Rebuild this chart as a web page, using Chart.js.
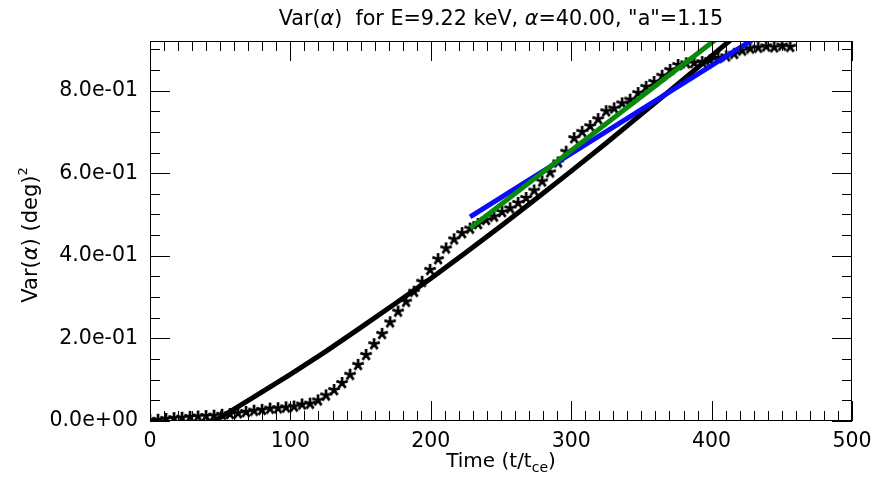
<!DOCTYPE html>
<html>
<head>
<meta charset="utf-8">
<script src="https://cdn.jsdelivr.net/npm/chart.js@4.4.1/dist/chart.umd.min.js"></script>
<style>
    html, body { margin: 0; padding: 0; background: #fff; }
</style>
</head>
<body>
<canvas id="varChart" width="876" height="478"></canvas>
<script>
// Simulated variance (asterisks)
const times = [
    0, 5.7, 11.4, 17.1, 22.8, 28.5, 34.2, 39.9, 45.6, 51.3,
    57.0, 62.7, 68.4, 74.1, 79.8, 85.5, 91.2, 96.9, 102.6, 108.3,
    114.0, 119.7, 125.4, 131.1, 136.8, 142.5, 148.2, 153.9, 159.6, 165.3,
    171.0, 176.7, 182.4, 188.1, 193.8, 199.5, 205.2, 210.9, 216.6, 222.3,
    228.0, 233.7, 239.4, 245.1, 250.8, 256.5, 262.2, 267.9, 273.6, 279.3,
    285.0, 290.7, 296.4, 302.1, 307.8, 313.5, 319.2, 324.9, 330.6, 336.3,
    342.0, 347.7, 353.4, 359.1, 364.8, 370.5, 376.2, 381.9, 387.6, 393.3,
    399.0, 404.7, 410.4, 416.1, 421.8, 427.5, 433.2, 438.9, 444.6, 450.3,
    456.0
];
const varSim = [
    0.002, 0.003, 0.005, 0.007, 0.008, 0.010, 0.011, 0.012, 0.013, 0.015,
    0.017, 0.019, 0.022, 0.025, 0.027, 0.030, 0.031, 0.033, 0.035, 0.040,
    0.042, 0.050, 0.062, 0.075, 0.092, 0.112, 0.136, 0.160, 0.186, 0.211,
    0.239, 0.265, 0.289, 0.313, 0.337, 0.366, 0.392, 0.418, 0.440, 0.455,
    0.466, 0.477, 0.487, 0.495, 0.506, 0.515, 0.528, 0.540, 0.558, 0.580,
    0.602, 0.626, 0.652, 0.685, 0.700, 0.714, 0.731, 0.750, 0.757, 0.769,
    0.778, 0.794, 0.809, 0.821, 0.836, 0.850, 0.862, 0.866, 0.867, 0.869,
    0.874, 0.879, 0.883, 0.889, 0.897, 0.902, 0.904, 0.907, 0.905, 0.909,
    0.906
];

// Theory curve (black)
const theoryTime = [44, 50, 75, 100, 125, 150, 175, 200, 225, 250, 275, 300, 325, 350, 375, 400, 425];
const theoryVar = [-0.004, 0.008, 0.060, 0.113, 0.168, 0.226, 0.285, 0.345, 0.408, 0.472, 0.538, 0.605, 0.673, 0.743, 0.813, 0.884, 0.955];

// Linear fits
const greenTime = [228, 410];
const greenVar = [0.467, 0.942];
const blueTime = [228, 440];
const blueVar = [0.494, 0.946];

const xTicks = [0, 100, 200, 300, 400, 500];
const yTicks = [0, 0.2, 0.4, 0.6, 0.8];

const FONT = "'DejaVu Sans', sans-serif";

function pts(xs, ys) {
    return xs.map((x, i) => ({ x: x, y: ys[i] }));
}

function sci(v) {
    if (Math.abs(v) < 1e-12) return "0.0e+00";
    let e = Math.floor(Math.log10(Math.abs(v)) + 1e-9);
    let m = v / Math.pow(10, e);
    return m.toFixed(1) + "e" + (e < 0 ? "-" : "+") + String(Math.abs(e)).padStart(2, "0");
}

// asterisk marker: five thick rays
function makeStar() {
    const c = document.createElement("canvas");
    c.width = 14;
    c.height = 14;
    const g = c.getContext("2d");
    g.strokeStyle = "#000";
    g.lineWidth = 2.7;
    g.beginPath();
    for (let k = 0; k < 5; k++) {
        const ang = -Math.PI / 2 + (k * 2 * Math.PI) / 5;
        g.moveTo(7, 7);
        g.lineTo(7 + 6 * Math.cos(ang), 7 + 6 * Math.sin(ang));
    }
    g.stroke();
    return c;
}

// draw a line of text made of several runs (for italic / sub / superscripts)
function drawRuns(ctx, runs, cx, y) {
    let w = 0;
    runs.forEach((r) => {
        ctx.font = r.font;
        r.w = ctx.measureText(r.text).width;
        w += r.w;
    });
    let x = cx - w / 2;
    runs.forEach((r) => {
        ctx.font = r.font;
        ctx.fillText(r.text, x, y + (r.dy || 0));
        x += r.w;
    });
}

const frameAndLabels = {
    id: "frameAndLabels",
    afterDraw(chart) {
        const { ctx, chartArea: a, scales } = chart;
        const sx = scales.x, sy = scales.y;
        ctx.save();
        ctx.strokeStyle = "#000";
        ctx.lineWidth = 1;
        ctx.strokeRect(a.left + 0.5, a.top + 0.5, a.right - a.left - 1, a.bottom - a.top - 1);

        ctx.beginPath();
        for (let v = 0; v <= 500; v += 10) {
            const px = Math.round(sx.getPixelForValue(v)) + 0.5;
            const len = v % 100 === 0 ? 20 : 10;
            ctx.moveTo(px, a.bottom);
            ctx.lineTo(px, a.bottom - len);
            ctx.moveTo(px, a.top);
            ctx.lineTo(px, a.top + len);
        }
        for (let i = 0; i <= 18; i++) {
            const py = Math.round(sy.getPixelForValue(i * 0.05)) + 0.5;
            if (py < a.top) continue;
            const len = i % 4 === 0 ? 20 : 10;
            ctx.moveTo(a.left, py);
            ctx.lineTo(a.left + len, py);
            ctx.moveTo(a.right, py);
            ctx.lineTo(a.right - len, py);
        }
        ctx.stroke();

        ctx.fillStyle = "#000";
        ctx.textBaseline = "alphabetic";
        ctx.textAlign = "left";

        // title
        const f = "20.7px " + FONT;
        const fi = "italic 20.7px " + FONT;
        drawRuns(ctx, [
            { text: "Var(", font: f },
            { text: "α", font: fi },
            { text: ")  for E=9.22 keV, ", font: f },
            { text: "α", font: fi },
            { text: '=40.00, "a"=1.15', font: f },
        ], (a.left + a.right) / 2, 25);

        // x title
        const fx = "20px " + FONT;
        drawRuns(ctx, [
            { text: "Time (t/t", font: fx },
            { text: "ce", font: "14px " + FONT, dy: 5 },
            { text: ")", font: fx },
        ], (a.left + a.right) / 2, 467);

        // y title
        const fy = "21px " + FONT;
        ctx.translate(37, 235);
        ctx.rotate(-Math.PI / 2);
        drawRuns(ctx, [
            { text: "Var(", font: fy },
            { text: "α", font: "italic 21px " + FONT },
            { text: ") (deg)", font: fy },
            { text: "2", font: "13px " + FONT, dy: -10 },
        ], 0, 0);
        ctx.restore();
    },
};

const ctx = document.getElementById("varChart").getContext("2d");
new Chart(ctx, {
    type: "scatter",
    data: {
        datasets: [
            {
                label: "fit 2",
                data: pts(greenTime, greenVar),
                showLine: true,
                borderColor: "#078a07",
                borderWidth: 5,
                pointRadius: 0,
                order: 0,
            },
            {
                label: "fit 1",
                data: pts(blueTime, blueVar),
                showLine: true,
                borderColor: "#0a0aff",
                borderWidth: 5,
                pointRadius: 0,
                order: 1,
            },
            {
                label: "simulation",
                data: pts(times, varSim),
                pointStyle: makeStar(),
                pointRadius: 6,
                order: 2,
            },
            {
                label: "theory",
                data: pts(theoryTime, theoryVar),
                showLine: true,
                borderColor: "#000",
                borderWidth: 5,
                pointRadius: 0,
                order: 3,
            },
        ],
    },
    options: {
        responsive: false,
        animation: false,
        layout: { padding: { top: 41, right: 24, left: 0, bottom: 0 } },
        plugins: {
            legend: { display: false },
            tooltip: { enabled: false },
            title: { display: false },
        },
        scales: {
            x: {
                type: "linear",
                min: 0,
                max: 500,
                grid: { display: false },
                border: { display: false },
                afterBuildTicks: (s) => { s.ticks = xTicks.map((v) => ({ value: v })); },
                afterFit: (s) => { s.height = 57; },
                ticks: {
                    color: "#000",
                    padding: 0,
                    maxRotation: 0,
                    font: { family: FONT, size: 20.5 },
                    callback: (v) => String(v),
                },
            },
            y: {
                type: "linear",
                min: 0,
                max: 0.92,
                grid: { display: false },
                border: { display: false },
                afterBuildTicks: (s) => { s.ticks = yTicks.map((v) => ({ value: v })); },
                afterFit: (s) => { s.width = 150; },
                ticks: {
                    color: "#000",
                    padding: 4,
                    font: { family: FONT, size: 20.5 },
                    callback: (v) => sci(v),
                },
            },
        },
    },
    plugins: [frameAndLabels],
});
</script>
</body>
</html>
